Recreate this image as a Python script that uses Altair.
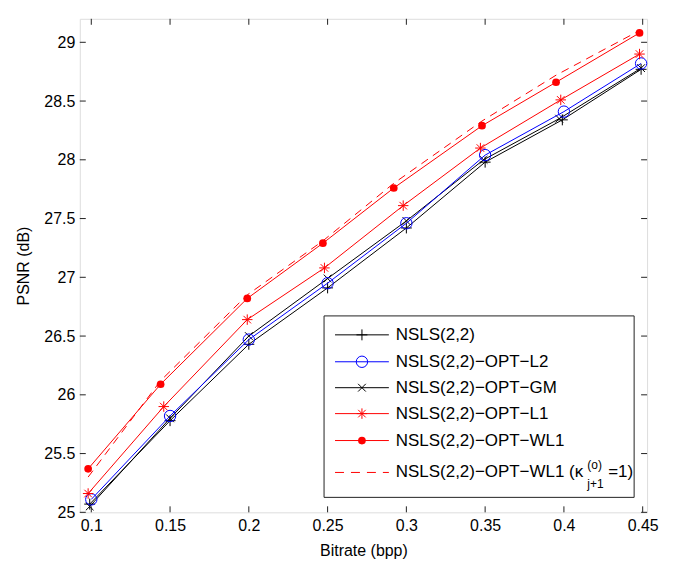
import altair as alt
import pandas as pd

# ---------------- data ----------------
series_names = [
    "NSLS(2,2)",
    "NSLS(2,2)−OPT−L2",
    "NSLS(2,2)−OPT−GM",
    "NSLS(2,2)−OPT−L1",
    "NSLS(2,2)−OPT−WL1",
    "NSLS(2,2)−OPT−WL1 (κ",
]

bitrate_nsls = [0.099, 0.150, 0.200, 0.250, 0.300, 0.350, 0.399, 0.449]
psnr_nsls = [25.07, 25.78, 26.43, 26.91, 27.42, 27.98, 28.34, 28.77]

bitrate_l2 = [0.100, 0.150, 0.200, 0.250, 0.300, 0.350, 0.400, 0.449]
psnr_l2 = [25.11, 25.82, 26.47, 26.95, 27.46, 28.04, 28.41, 28.82]

bitrate_gm = [0.099, 0.150, 0.200, 0.250, 0.300, 0.349, 0.397, 0.449]
psnr_gm = [25.05, 25.80, 26.50, 26.99, 27.48, 28.00, 28.35, 28.78]

bitrate_l1 = [0.098, 0.146, 0.199, 0.248, 0.298, 0.347, 0.398, 0.448]
psnr_l1 = [25.16, 25.90, 26.64, 27.08, 27.61, 28.10, 28.51, 28.90]

bitrate_wl1 = [0.098, 0.144, 0.199, 0.247, 0.292, 0.348, 0.395, 0.448]
psnr_wl1 = [25.37, 26.09, 26.82, 27.29, 27.76, 28.29, 28.66, 29.08]

bitrate_wl1k = [0.098, 0.144, 0.199, 0.247, 0.292, 0.348, 0.395, 0.448]
psnr_wl1k = [25.30, 26.12, 26.85, 27.31, 27.80, 28.33, 28.72, 29.10]

x_ticks = [0.1, 0.15, 0.2, 0.25, 0.3, 0.35, 0.4, 0.45]
y_ticks = [25, 25.5, 26, 26.5, 27, 27.5, 28, 28.5, 29]

# ---------------- styling ----------------
FONT = "Liberation Sans"
W, H = 569, 495
RED, BLUE, BLACK = "#ff0000", "#0000ff", "#000000"
PLUS = "M-1,0H1M0,-1V1"
XMARK = "M-1,-1L1,1M-1,1L1,-1"
STAR = "M-1,0H1M0,-1V1M-0.72,-0.72L0.72,0.72M-0.72,0.72L0.72,-0.72"

xscale = alt.Scale(domain=[0.0927, 0.4528], nice=False, zero=False)
yscale = alt.Scale(domain=[25, 29.2], nice=False, zero=False)

xaxis = alt.Axis(values=x_ticks, format="~g", ticks=False, domain=False, grid=False,
                 labelFont=FONT, labelFontSize=16, labelColor="black", labelPadding=5,
                 labelFlush=False, labelOverlap=False,
                 title="Bitrate (bpp)", titleFont=FONT, titleFontSize=16,
                 titleFontWeight="normal", titleColor="black", titlePadding=9)
yaxis = alt.Axis(values=y_ticks, format="~g", ticks=False, domain=False, grid=False,
                 labelFont=FONT, labelFontSize=16, labelColor="black", labelPadding=5,
                 labelFlush=False, labelOverlap=False,
                 title="PSNR (dB)", titleFont=FONT, titleFontSize=16,
                 titleFontWeight="normal", titleColor="black", titlePadding=12)


def X(f):
    return alt.X(f"{f}:Q", scale=xscale, axis=xaxis)


def Y(f):
    return alt.Y(f"{f}:Q", scale=yscale, axis=yaxis)


def series(xs, ys, color, shape=None, size=None, filled=False, dash=None):
    df = pd.DataFrame({"x": xs, "y": ys})
    line_kw = dict(color=color, strokeWidth=1)
    if dash:
        line_kw["strokeDash"] = dash
    layers = [alt.Chart(df).mark_line(**line_kw).encode(x=X("x"), y=Y("y"))]
    if shape:
        layers.append(alt.Chart(df).mark_point(shape=shape, size=size, filled=filled,
                                                color=color, strokeWidth=1, opacity=1)
                      .encode(x=X("x"), y=Y("y")))
    return layers


layers = []
layers += series(bitrate_wl1k, psnr_wl1k, RED, dash=[8, 6])
layers += series(bitrate_nsls, psnr_nsls, BLACK, PLUS, 120)
layers += series(bitrate_gm, psnr_gm, BLACK, XMARK, 60)
layers += series(bitrate_l2, psnr_l2, BLUE, "circle", 130)
layers += series(bitrate_l1, psnr_l1, RED, STAR, 110)
layers += series(bitrate_wl1, psnr_wl1, RED, "circle", 60, filled=True)

# inward ticks on all four sides
xt = pd.DataFrame({"v": x_ticks})
yt = pd.DataFrame({"v": y_ticks})
TL = 6
layers.append(alt.Chart(xt).mark_rule(color="#222", strokeWidth=1)
              .encode(x=X("v"), y=alt.value(H), y2=alt.value(H - TL)))
layers.append(alt.Chart(xt).mark_rule(color="#222", strokeWidth=1)
              .encode(x=X("v"), y=alt.value(0), y2=alt.value(TL)))
layers.append(alt.Chart(yt).mark_rule(color="#222", strokeWidth=1)
              .encode(y=Y("v"), x=alt.value(0), x2=alt.value(TL)))
layers.append(alt.Chart(yt).mark_rule(color="#222", strokeWidth=1)
              .encode(y=Y("v"), x=alt.value(W), x2=alt.value(W - TL)))

# ---------------- legend (manual, MATLAB-like) ----------------
one = pd.DataFrame({"a": [0]})
LX0, LX1, LY0, LY1 = 245, 556, 298, 480
layers.append(alt.Chart(one).mark_rect(fill="white", stroke="#222", strokeWidth=1)
              .encode(x=alt.value(LX0), x2=alt.value(LX1), y=alt.value(LY0), y2=alt.value(LY1)))

row_y = [317, 344, 370, 396, 423, 455]
styles = [
    (BLACK, PLUS, 120, False, None),
    (BLUE, "circle", 130, False, None),
    (BLACK, XMARK, 60, False, None),
    (RED, STAR, 110, False, None),
    (RED, "circle", 60, True, None),
    (RED, None, None, False, [9, 7]),
]
SX0, SX1, SXM, TX = 256, 310, 283, 317
for name, ry, (col, shp, sz, fil, dash) in zip(series_names, row_y, styles):
    rk = dict(color=col, strokeWidth=1)
    if dash:
        rk["strokeDash"] = dash
    layers.append(alt.Chart(one).mark_rule(**rk)
                  .encode(x=alt.value(SX0), x2=alt.value(SX1), y=alt.value(ry)))
    if shp:
        layers.append(alt.Chart(one).mark_point(shape=shp, size=sz, filled=fil, color=col,
                                                strokeWidth=1, opacity=1)
                      .encode(x=alt.value(SXM), y=alt.value(ry)))
    layers.append(alt.Chart(one).mark_text(align="left", baseline="middle", font=FONT,
                                           fontSize=17, color="black")
                  .encode(x=alt.value(TX), y=alt.value(ry), text=alt.value(name)))

# super/subscript parts of the last legend entry
layers.append(alt.Chart(one).mark_text(align="left", baseline="middle", font=FONT,
                                       fontSize=12, color="black")
              .encode(x=alt.value(509), y=alt.value(448), text=alt.value("(o)")))
layers.append(alt.Chart(one).mark_text(align="left", baseline="middle", font=FONT,
                                       fontSize=12, color="black")
              .encode(x=alt.value(509), y=alt.value(467), text=alt.value("j+1")))
layers.append(alt.Chart(one).mark_text(align="left", baseline="middle", font=FONT,
                                       fontSize=17, color="black")
              .encode(x=alt.value(530), y=alt.value(455), text=alt.value("=1)")))

chart = alt.layer(*layers).properties(
    width=W, height=H,
    autosize=alt.AutoSizeParams(type="none"),
    padding={"left": 72, "top": 10, "right": 30, "bottom": 50},
).configure_view(stroke="#222", strokeWidth=1.2).configure(background="white")

chart.save("out.html", embed_options={"renderer": "svg", "actions": False})
